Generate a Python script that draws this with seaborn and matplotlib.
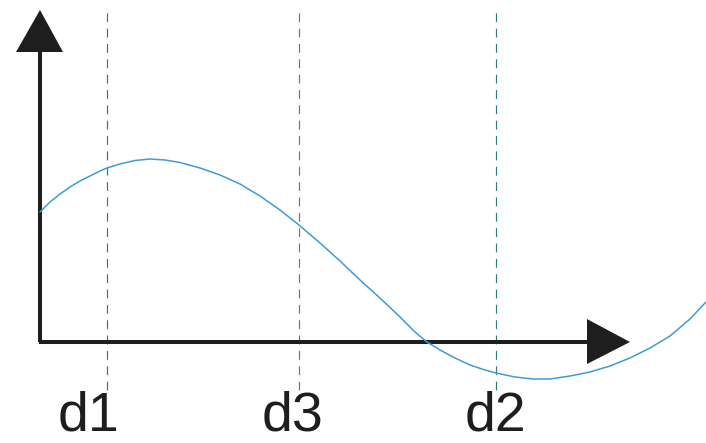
import matplotlib
matplotlib.use("Agg")
import matplotlib.pyplot as plt
import seaborn as sns
import pandas as pd

# Curve samples (x to the right of the vertical axis, y above the horizontal axis)
curve_x = [0, 10, 20, 30, 40, 50, 60, 67, 80, 95, 110, 125, 140, 160, 180,
           200, 220, 240, 259, 280, 300, 320, 340, 360, 375, 387, 400, 415,
           430, 445, 456, 475, 493, 510, 530, 550, 570, 590, 610, 630, 650, 666]
curve_y = [130, 140, 148, 155, 161, 166, 171, 174, 178, 181.5, 183, 182, 179.5,
           174, 167, 158, 146, 132, 117, 99, 81, 62, 44, 25, 10, 0, -8, -16,
           -23, -28, -31, -35, -37, -37, -34, -30, -24, -16, -6, 6, 23, 40]

# Vertical reference lines and their labels
marker_names = ["d1", "d3", "d2"]
marker_x = [67, 259, 456]
marker_colors = ["#2f7a7a", "#c2553a", "#2f7a7a"]
label_x = [48, 253, 455]

sns.set_theme(style="white")
plt.rcParams["font.family"] = ["Liberation Sans", "DejaVu Sans"]

fig = plt.figure(figsize=(7.06, 4.43), dpi=100)
ax = fig.add_axes([0, 0, 1, 1])

# dashed guide lines
for x, c in zip(marker_x, marker_colors):
    ax.vlines(x, -48, 330, colors=c, linewidth=0.85, linestyles=(0, (7.5, 5.5)), zorder=2)

# axes with arrow heads
axis_color = "#1e1e1e"
ax.plot([0, 0], [0, 292], color=axis_color, linewidth=2.9, solid_capstyle="butt", zorder=3)
ax.plot([-1, 549], [0, 0], color=axis_color, linewidth=2.9, solid_capstyle="butt", zorder=3)
ax.fill([-24, 23, 0], [290, 290, 332], color=axis_color, zorder=3, linewidth=0)
ax.fill([547, 547, 590], [23, -22, 0], color=axis_color, zorder=3, linewidth=0)

# the curve
df = pd.DataFrame({"x": curve_x, "y": curve_y})
sns.lineplot(data=df, x="x", y="y", ax=ax, color="#3f9bd4", linewidth=1.1,
             sort=False, zorder=4)
ax.set_xlim(-40, 666)
ax.set_ylim(-101, 342)
ax.axis("off")

for name, x in zip(marker_names, label_x):
    ax.text(x, -100.5, name, ha="center", va="bottom", fontsize=40, color="#1e1e1e")

fig.savefig("out.png", dpi=100)
